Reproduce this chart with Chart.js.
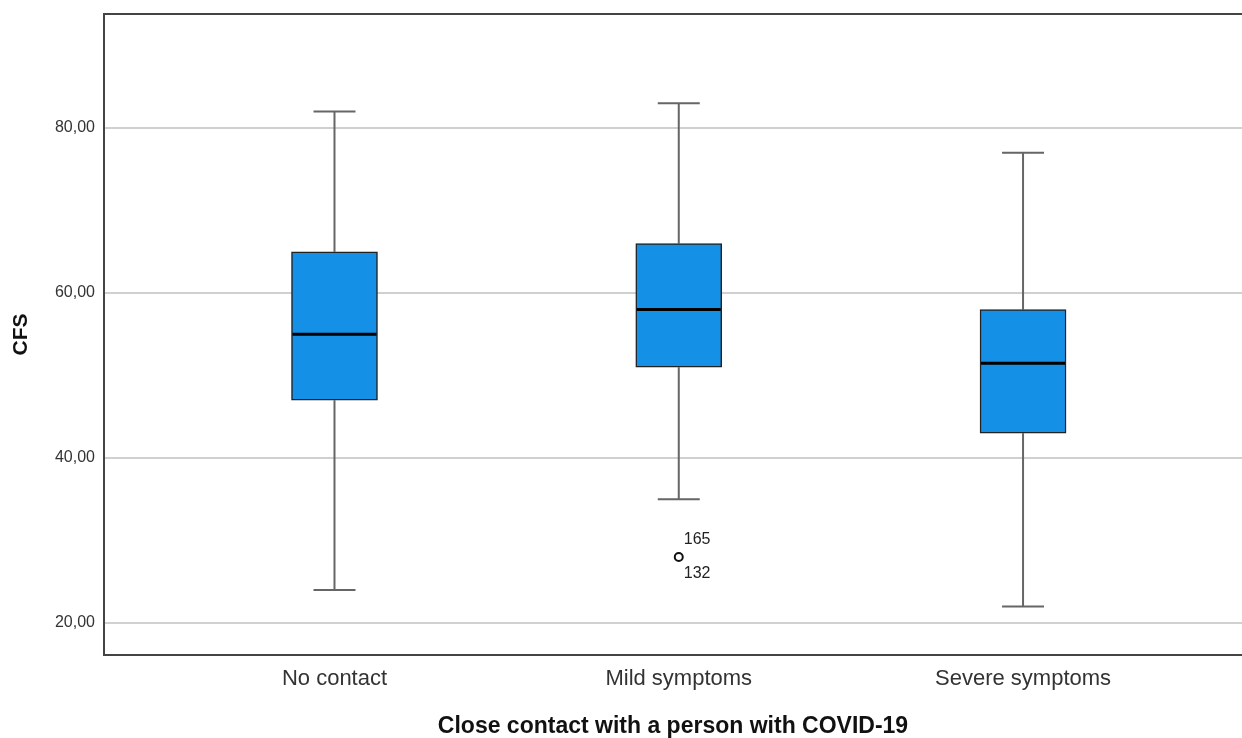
<!DOCTYPE html>
<html>

<head>
  <title>CFS by close contact</title>
  <script src="https://cdn.jsdelivr.net/npm/chart.js"></script>
  <style>
    html, body { margin: 0; padding: 0; background: #fff; overflow: hidden; }
  </style>
</head>

<body>
  <canvas id="myChart" width="1242" height="738"></canvas>
  <script>
    // box plot values
    const categories = ['No contact', 'Mild symptoms', 'Severe symptoms'];
    const whiskerMin = [24, 35, 22];
    const q1 = [47, 51, 43];
    const median = [55, 58, 51.5];
    const q3 = [65, 66, 58];
    const whiskerMax = [82, 83, 77];
    const outlierCat = [1];
    const outlierVal = [28];
    const outlierIds = [['165', '132']];
    const yTicks = [20, 40, 60, 80];

    const boxData = categories.map((c, i) => ({ x: i, y: [q1[i], q3[i]] }));
    const outlierData = outlierCat.map((c, i) => ({ x: c, y: outlierVal[i] }));

    // whiskers, caps, medians, outlier ids and top frame line
    const boxExtras = {
      id: 'boxExtras',
      beforeDatasetsDraw(chart) {
        const ctx = chart.ctx;
        const xs = chart.scales.x, ys = chart.scales.y;
        ctx.save();
        ctx.strokeStyle = '#666';
        ctx.lineWidth = 2;
        categories.forEach((c, i) => {
          const x = xs.getPixelForValue(i);
          ctx.beginPath();
          ctx.moveTo(x, ys.getPixelForValue(whiskerMax[i]));
          ctx.lineTo(x, ys.getPixelForValue(q3[i]));
          ctx.moveTo(x, ys.getPixelForValue(q1[i]));
          ctx.lineTo(x, ys.getPixelForValue(whiskerMin[i]));
          ctx.moveTo(x - 21, ys.getPixelForValue(whiskerMax[i]));
          ctx.lineTo(x + 21, ys.getPixelForValue(whiskerMax[i]));
          ctx.moveTo(x - 21, ys.getPixelForValue(whiskerMin[i]));
          ctx.lineTo(x + 21, ys.getPixelForValue(whiskerMin[i]));
          ctx.stroke();
        });
        ctx.restore();
      },
      afterDatasetsDraw(chart) {
        const ctx = chart.ctx;
        const xs = chart.scales.x, ys = chart.scales.y;
        const area = chart.chartArea;
        ctx.save();
        ctx.strokeStyle = '#000';
        ctx.lineWidth = 3;
        categories.forEach((c, i) => {
          const x = xs.getPixelForValue(i);
          const y = ys.getPixelForValue(median[i]);
          ctx.beginPath();
          ctx.moveTo(x - 42, y);
          ctx.lineTo(x + 42, y);
          ctx.stroke();
        });
        ctx.fillStyle = '#222';
        ctx.font = '16px "Liberation Sans", Arial, sans-serif';
        ctx.textBaseline = 'middle';
        ctx.textAlign = 'left';
        outlierCat.forEach((c, i) => {
          const x = xs.getPixelForValue(c);
          const y = ys.getPixelForValue(outlierVal[i]);
          ctx.fillText(outlierIds[i][0], x + 5, y - 17);
          ctx.fillText(outlierIds[i][1], x + 5, y + 17);
        });
        ctx.strokeStyle = '#444';
        ctx.lineWidth = 2;
        ctx.beginPath();
        ctx.moveTo(area.left - 1, area.top);
        ctx.lineTo(area.right, area.top);
        ctx.stroke();
        ctx.restore();
      }
    };

    const ctx = document.getElementById("myChart").getContext("2d");
    const myChart = new Chart(ctx, {
      type: 'bar',
      data: {
        datasets: [{
          label: 'CFS',
          data: boxData,
          backgroundColor: '#1490e6',
          borderColor: '#222',
          borderWidth: 1.5,
          borderSkipped: false,
          barThickness: 86
        }, {
          type: 'scatter',
          label: 'Outliers',
          data: outlierData,
          pointStyle: 'circle',
          pointRadius: 4,
          backgroundColor: '#fff',
          borderColor: '#111',
          borderWidth: 2
        }]
      },
      options: {
        responsive: false,
        animation: false,
        layout: { autoPadding: false, padding: { top: 14, right: 0, left: 0, bottom: 0 } },
        plugins: {
          legend: { display: false },
          tooltip: { enabled: false }
        },
        scales: {
          x: {
            type: 'linear',
            offset: false,
            min: -0.6695,
            max: 2.636,
            afterFit: scale => { scale.height = 83; scale.paddingLeft = 0; scale.paddingRight = 0; },
            afterBuildTicks: scale => { scale.ticks = categories.map((c, i) => ({ value: i })); },
            ticks: {
              padding: 11,
              color: '#333',
              font: { family: '"Liberation Sans", Arial, sans-serif', size: 22 },
              callback: v => categories[v]
            },
            grid: { display: false, drawTicks: false },
            border: { display: true, color: '#444', width: 2 },
            title: {
              display: true,
              text: 'Close contact with a person with COVID-19',
              color: '#111',
              padding: { top: 0, bottom: 0 },
              font: { family: '"Liberation Sans", Arial, sans-serif', size: 23, weight: 'bold', lineHeight: 1 }
            }
          },
          y: {
            min: 16.12,
            max: 93.82,
            afterFit: scale => { scale.width = 104; scale.paddingTop = 0; scale.paddingBottom = 0; },
            afterBuildTicks: scale => { scale.ticks = yTicks.map(v => ({ value: v })); },
            ticks: {
              padding: 9,
              color: '#333',
              font: { family: '"Liberation Sans", Arial, sans-serif', size: 16 },
              callback: v => v.toFixed(2).replace('.', ',')
            },
            grid: { color: '#d0d0d0', lineWidth: 2, drawTicks: false },
            border: { display: true, color: '#444', width: 2 },
            title: {
              display: true,
              text: 'CFS',
              color: '#111',
              padding: { top: 9, bottom: 0 },
              font: { family: '"Liberation Sans", Arial, sans-serif', size: 21, weight: 'bold' }
            }
          }
        }
      },
      plugins: [boxExtras]
    });
  </script>
</body>

</html>
